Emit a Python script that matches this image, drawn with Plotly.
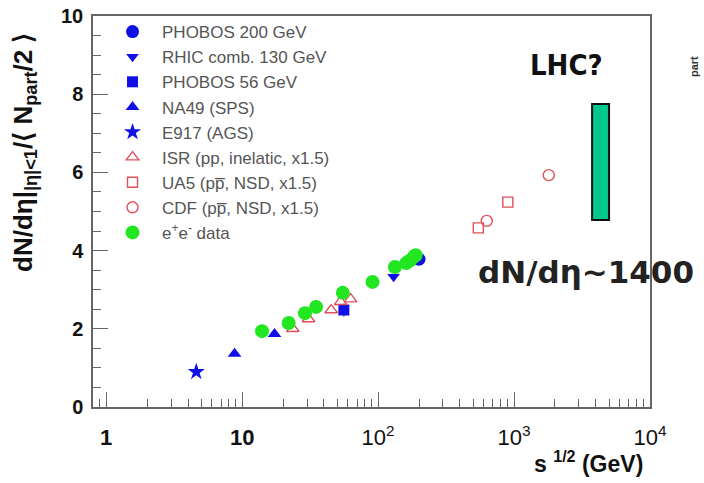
import math
import plotly.graph_objects as go

# ---------------- data ----------------
phobos200_x = [200]
phobos200_y = [3.78]
rhic130_x = [130]
rhic130_y = [3.33]
phobos56_x = [56]
phobos56_y = [2.48]
phobos56_err = [0.17]
na49_x = [8.8, 17.3]
na49_y = [1.36, 1.87]
e917_x = [4.6]
e917_y = [0.90]
isr_x = [23.6, 30.8, 45.2, 53.0, 62.8]
isr_y = [2.00, 2.25, 2.48, 2.69, 2.76]
ua5_x = [546, 900]
ua5_y = [4.58, 5.24]
cdf_x = [630, 1800]
cdf_y = [4.76, 5.93]
ee_x = [14, 22, 29, 35, 55, 91, 133, 161, 172, 183, 189]
ee_y = [1.94, 2.15, 2.40, 2.56, 2.92, 3.20, 3.58, 3.68, 3.75, 3.84, 3.88]

lhc_x = [3750, 5000]
lhc_y = [4.78, 7.75]

x_tickvals = [1, 10, 100, 1000, 10000]
x_ticktext = ["<b>1</b>", "<b>10</b>", "10<sup>2</sup>", "10<sup>3</sup>", "10<sup>4</sup>"]
y_tickvals = [0, 2, 4, 6, 8, 10]
y_ticktext = ["<b>%d</b>" % v for v in y_tickvals]

BLUE = "#1010e6"
RED = "#e0505a"
GREEN = "#22e622"
AXC = "#666666"

fig = go.Figure()

def add(x, y, name, symbol, color, size, open_=False, err=None):
    marker = dict(symbol=symbol, size=size, color=color)
    if open_:
        marker["line"] = dict(color=color, width=1.4)
    else:
        marker["line"] = dict(width=0)
    kw = {}
    if err is not None:
        kw["error_y"] = dict(type="data", array=err, color="#444444", thickness=1, width=0)
    fig.add_trace(go.Scatter(x=x, y=y, mode="markers", name=name, marker=marker, **kw))

add(phobos200_x, phobos200_y, "PHOBOS 200 GeV", "circle", BLUE, 13)
add(rhic130_x, rhic130_y, "RHIC comb. 130 GeV", "triangle-down", BLUE, 11)
add(phobos56_x, phobos56_y, "PHOBOS 56 GeV", "square", BLUE, 11, err=phobos56_err)
add(na49_x, na49_y, "NA49 (SPS)", "triangle-up", BLUE, 12)
add(e917_x, e917_y, "E917 (AGS)", "star", BLUE, 13)
add(isr_x, isr_y, "ISR (pp, inelatic, x1.5)", "triangle-up-open", RED, 11, open_=True)
add(ua5_x, ua5_y, "UA5 (pp\u0305, NSD, x1.5)", "square-open", RED, 10, open_=True)
add(cdf_x, cdf_y, "CDF (pp\u0305, NSD, x1.5)", "circle-open", RED, 11, open_=True)
add(ee_x, ee_y, "e<sup>+</sup>e<sup>-</sup> data", "circle", GREEN, 14)

# LHC prediction band
fig.add_shape(type="rect", xref="x", yref="y",
              x0=lhc_x[0], x1=lhc_x[1], y0=lhc_y[0], y1=lhc_y[1],
              fillcolor="#00c88c", line=dict(color="#111111", width=2))

W, H = 704, 483
ml, mr, mt, mb = 93, 54, 16, 76
pw, ph = W - ml - mr, H - mt - mb

def px(xp):
    return (xp - ml) / pw

def py(yp):
    return (H - mb - yp) / ph

def note(xp, yp, text, font, **kw):
    args = dict(xanchor="center", yanchor="middle")
    args.update(kw)
    fig.add_annotation(x=px(xp), y=py(yp), xref="paper", yref="paper", showarrow=False,
                       text=text, font=font, **args)

note(566, 65, "LHC?", dict(family="Liberation Sans Narrow, DejaVu Sans Condensed", size=29,
                           color="#111111", weight="bold"))
note(586, 272, "dN/dη~1400", dict(family="DejaVu Sans", size=31, color="#222222", weight="bold"))
note(24, 153, "dN/dη|<sub>|η|&lt;1</sub>/⟨ N<sub>part</sub>/2 ⟩",
     dict(family="Liberation Sans, Arial", size=26, color="#111111", weight="bold"), textangle=-90)
note(645, 462, "s <sup>1/2</sup> (GeV)",
     dict(family="Liberation Sans, Arial", size=23, color="#111111", weight="bold"), xanchor="right")
note(694, 67, "part", dict(family="Liberation Sans, Arial", size=11, color="#333333", weight="bold"),
     textangle=-90)

fig.update_layout(
    width=W, height=H,
    margin=dict(l=ml, r=mr, t=mt, b=mb, autoexpand=False),
    paper_bgcolor="white", plot_bgcolor="white",
    font=dict(family="Liberation Sans, Arial", color="#111111"),
    legend=dict(x=0.018, y=1.005, xanchor="left", yanchor="top", bgcolor="rgba(0,0,0,0)",
                font=dict(size=17, color="#555555"), itemwidth=49, tracegroupgap=0),
    showlegend=True,
)
fig.update_xaxes(type="log", range=[math.log10(0.8), 4], tickmode="array",
                 tickvals=x_tickvals, ticktext=x_ticktext,
                 ticks="inside", ticklen=15, tickcolor=AXC, tickwidth=1.2,
                 tickfont=dict(size=22, color="#111111"), ticklabelstandoff=10,
                 showline=True, linecolor=AXC, linewidth=1.5, mirror=True, showgrid=False, zeroline=False,
                 minor=dict(ticks="inside", ticklen=8, tickcolor=AXC, tickwidth=1, dtick="D1", showgrid=False))
fig.update_yaxes(range=[0, 10], tickmode="array", tickvals=y_tickvals, ticktext=y_ticktext,
                 ticks="inside", ticklen=15, tickcolor=AXC, tickwidth=1.2,
                 tickfont=dict(size=20, color="#111111"), ticklabelstandoff=4,
                 showline=True, linecolor=AXC, linewidth=1.5, mirror=True, showgrid=False, zeroline=False,
                 minor=dict(ticks="inside", ticklen=8, tickcolor=AXC, tickwidth=1, dtick=0.5, showgrid=False))

fig.write_html("out.html")
